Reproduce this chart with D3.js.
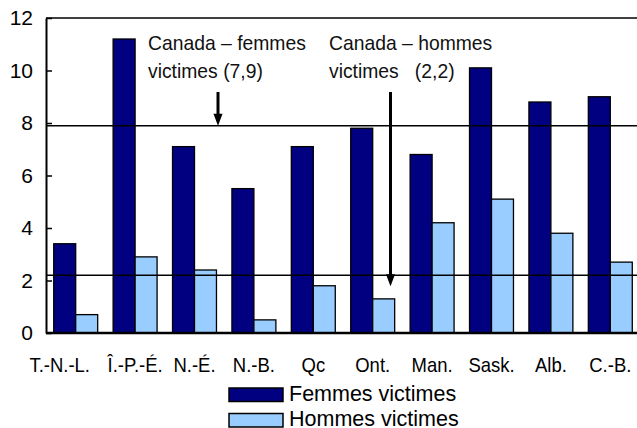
<!DOCTYPE html>
<html lang="fr">
    <head>
        <meta charset="utf-8">
        <title>Victimes par province</title>
        <script src="https://d3js.org/d3.v7.min.js"></script>
        <style type="text/css">
            body { margin: 0; background: #ffffff; }

            .axis text {
                font-family: "Liberation Sans", Arial, sans-serif;
                font-size: 21px;
                fill: #000000;
            }

            .narrow {
                font-family: "Liberation Sans", Arial, sans-serif;
                font-size: 21px;
                fill: #111111;
                white-space: pre;
            }

            .legend text {
                font-family: "Liberation Sans", Arial, sans-serif;
                font-size: 21.5px;
                fill: #000000;
            }

            .avg {
                stroke: #000000;
                stroke-width: 1.5px;
            }
        </style>
    </head>
    <body>
        <script type="text/javascript">

            //data
            const provinces = ["T.-N.-L.", "Î.-P.-É.", "N.-É.", "N.-B.", "Qc", "Ont.", "Man.", "Sask.", "Alb.", "C.-B."];
            const femmes = [3.4, 11.2, 7.1, 5.5, 7.1, 7.8, 6.8, 10.1, 8.8, 9.0];
            const hommes = [0.7, 2.9, 2.4, 0.5, 1.8, 1.3, 4.2, 5.1, 3.8, 2.7];
            const canadaFemmes = 7.9;
            const canadaHommes = 2.2;
            const yTicks = [0, 2, 4, 6, 8, 10, 12];
            const seriesNames = ["Femmes victimes", "Hommes victimes"];
            const colours = ["#000080", "#99ccff"];

            const w = 637;
            const h = 428;
            const plotLeft = 46;
            const plotTop = 18;
            const plotBottom = 333;
            const plotRight = 640; //plot area runs past the picture edge

            //squeeze text to look like a narrow font
            function narrow(sel, factor) {
                sel.each(function() {
                    const len = this.getComputedTextLength();
                    d3.select(this)
                      .attr("textLength", len * factor)
                      .attr("lengthAdjust", "spacingAndGlyphs");
                });
            }

            //scales
            const xScale = d3.scaleBand()
                             .domain(provinces)
                             .range([plotLeft, plotRight])
                             .paddingInner(0.26)
                             .paddingOuter(0.13);

            const xSub = d3.scaleBand()
                           .domain([0, 1])
                           .range([0, xScale.bandwidth()]);

            const yScale = d3.scaleLinear()
                             .domain([0, 12])
                             .range([plotBottom, plotTop]);

            const svg = d3.select("body")
                          .append("svg")
                          .attr("width", w)
                          .attr("height", h);

            //top border of plot area
            svg.append("line")
               .attr("x1", plotLeft).attr("x2", w)
               .attr("y1", yScale(12)).attr("y2", yScale(12))
               .attr("stroke", "#000")
               .attr("stroke-width", 1.5);

            //bars
            const rows = provinces.map((p, i) => ({p: p, vals: [femmes[i], hommes[i]]}));

            const groups = svg.selectAll(".grp")
                              .data(rows)
                              .enter()
                              .append("g")
                              .attr("transform", d => "translate(" + xScale(d.p) + ",0)");

            groups.selectAll("rect")
                  .data(d => d.vals.map((v, k) => ({k: k, v: v})))
                  .enter()
                  .append("rect")
                  .attr("x", d => xSub(d.k))
                  .attr("y", d => yScale(d.v))
                  .attr("width", xSub.bandwidth())
                  .attr("height", d => yScale(0) - yScale(d.v))
                  .attr("fill", d => colours[d.k])
                  .attr("stroke", "#000")
                  .attr("stroke-width", 1.3);

            //canada average lines
            svg.append("line").attr("class", "avg")
               .attr("x1", plotLeft).attr("x2", w)
               .attr("y1", yScale(canadaFemmes)).attr("y2", yScale(canadaFemmes));

            svg.append("line").attr("class", "avg")
               .attr("x1", plotLeft).attr("x2", w)
               .attr("y1", yScale(canadaHommes)).attr("y2", yScale(canadaHommes));

            //left axis, ticks pointing inward
            const leftAxis = d3.axisLeft(yScale)
                               .tickValues(yTicks)
                               .tickSizeInner(-6)
                               .tickSizeOuter(0)
                               .tickPadding(13);

            const yAxisG = svg.append("g")
                              .attr("class", "axis")
                              .attr("transform", "translate(" + plotLeft + ",0)")
                              .call(leftAxis);
            yAxisG.select(".domain").attr("stroke-width", 2);
            yAxisG.selectAll(".tick line").attr("stroke-width", 1.5);

            //bottom axis
            const bottomAxis = d3.axisBottom(xScale)
                                 .tickSize(0)
                                 .tickPadding(0);

            const xAxisG = svg.append("g")
                              .attr("class", "axis")
                              .attr("transform", "translate(0," + plotBottom + ")")
                              .call(bottomAxis);
            xAxisG.select(".domain").attr("stroke-width", 2.5)
                  .attr("d", "M" + plotLeft + ",0H" + w);
            xAxisG.selectAll(".tick text")
                  .attr("class", "narrow")
                  .attr("dy", 0)
                  .attr("y", 39)
                  .attr("x", (d, i) => i === 0 ? -16 : 0)
                  .call(narrow, 0.88);

            //annotations
            const fmt = v => String(v).replace(".", ",");
            const notes = [
                {x: 148, y: 50, t: "Canada – femmes"},
                {x: 148, y: 78, t: "victimes (" + fmt(canadaFemmes) + ")"},
                {x: 329, y: 50, t: "Canada – hommes"},
                {x: 329, y: 78, t: "victimes   (" + fmt(canadaHommes) + ")"}
            ];
            svg.selectAll(".note")
               .data(notes)
               .enter()
               .append("text")
               .attr("class", "narrow note")
               .attr("x", d => d.x)
               .attr("y", d => d.y)
               .text(d => d.t)
               .call(narrow, 0.92);

            //arrows
            function arrow(x, y0, y1) {
                svg.append("line")
                   .attr("x1", x).attr("x2", x)
                   .attr("y1", y0).attr("y2", y1 - 8)
                   .attr("stroke", "#000")
                   .attr("stroke-width", 3);
                svg.append("path")
                   .attr("d", "M" + (x - 4.5) + "," + (y1 - 12) + "L" + (x + 4.5) + "," + (y1 - 12) + "L" + x + "," + y1 + "Z")
                   .attr("fill", "#000");
            }
            arrow(218, 92, yScale(canadaFemmes));
            arrow(390.5, 92, yScale(canadaHommes) + 11);

            //legend
            const legend = svg.append("g").attr("class", "legend");
            seriesNames.forEach((name, i) => {
                legend.append("rect")
                      .attr("x", 229).attr("y", 388 + i * 25.5)
                      .attr("width", 54).attr("height", 13.5)
                      .attr("fill", colours[i])
                      .attr("stroke", "#000")
                      .attr("stroke-width", 1.5);
                legend.append("text")
                      .attr("x", 289).attr("y", 400.5 + i * 25.5)
                      .text(name);
            });

        </script>
    </body>
</html>
